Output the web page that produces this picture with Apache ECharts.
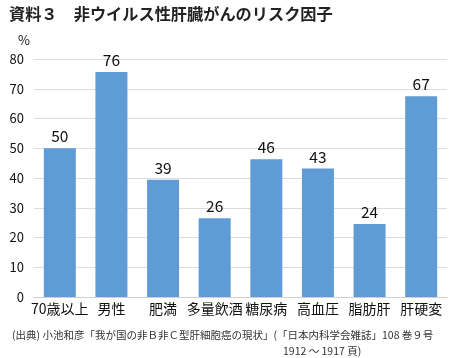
<!DOCTYPE html>
<html><head><meta charset="utf-8">
<script src="https://cdn.jsdelivr.net/npm/echarts@6/dist/echarts.min.js"></script>
<style>html,body{margin:0;padding:0;background:#fff}#c{width:450px;height:358px}</style>
</head><body><div id="c"></div>
<script>
const categories = ['70歳以上','男性','肥満','多量飲酒','糖尿病','高血圧','脂肪肝','肝硬変'];
const values = [50, 75.6, 39.4, 26.5, 46.3, 43.2, 24.5, 67.5];
const valueLabels = ['50','76','39','26','46','43','24','67'];
const yTicks = [0,10,20,30,40,50,60,70,80];
const title = '資料３　非ウイルス性肝臓がんのリスク因子';
const source1 = '(出典) 小池和彦「我が国の非Ｂ非Ｃ型肝細胞癌の現状」(「日本内科学会雑誌」108 巻９号';
const source2 = '1912 ～ 1917 頁)';
const font = '"Noto Sans CJK JP", "Noto Sans", sans-serif';
const chart = echarts.init(document.getElementById('c'));
chart.setOption({
  animation: false,
  textStyle: {fontFamily: font},
  title: [
    {text: title, left: 4, top: 1, textStyle: {fontSize: 16.2, fontWeight: 'bold', color: '#222', fontFamily: font}},
    {text: source1, left: 7, top: 325, textStyle: {fontSize: 10.5, fontWeight: 'normal', color: '#333', fontFamily: font}},
    {text: source2, left: 278, top: 341, textStyle: {fontSize: 10.5, fontWeight: 'normal', color: '#333', fontFamily: font}}
  ],
  grid: {left: 34, right: 3, top: 59, bottom: 61, containLabel: false},
  xAxis: {
    type: 'category', data: categories,
    axisLine: {lineStyle: {color: '#d0d0d0'}},
    axisTick: {show: false},
    axisLabel: {color: '#111', fontSize: 14, margin: 5, interval: 0, fontFamily: font}
  },
  yAxis: {
    type: 'value', min: yTicks[0], max: yTicks[yTicks.length-1], interval: 10,
    name: '%', nameLocation: 'end', nameGap: 12,
    nameTextStyle: {color: '#111', fontSize: 13, align: 'right', padding: [0, 4, 0, 0]},
    axisLine: {show: false}, axisTick: {show: false},
    axisLabel: {color: '#111', fontSize: 13, margin: 10, fontFamily: font},
    splitLine: {lineStyle: {color: '#dcdcdc'}}
  },
  series: [{
    type: 'bar', data: values, barWidth: '62%',
    itemStyle: {color: '#5f9bd5'},
    label: {show: true, position: 'top', distance: 4, color: '#111', fontSize: 15.5,
      formatter: p => valueLabels[p.dataIndex]}
  }]
});
</script></body></html>
